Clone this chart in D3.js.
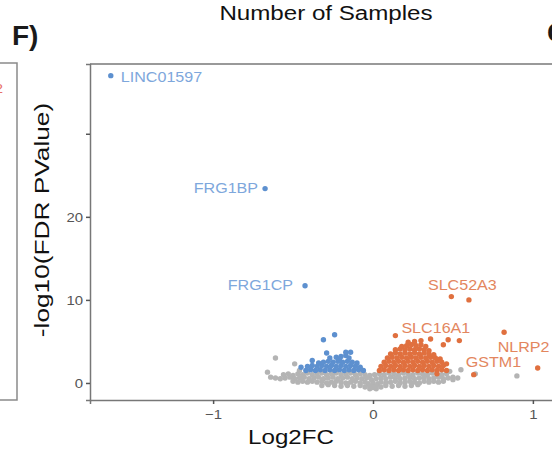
<!DOCTYPE html>
<html>
<head>
<meta charset="utf-8">
<script src="https://cdn.jsdelivr.net/npm/d3@7"></script>
<style>
  body { margin: 0; background: #fff; }
  svg text { font-family: "Liberation Sans", Arial, sans-serif; }
</style>
</head>
<body>
<div id="volcano"></div>
<script>
// Volcano plot values: [log2FC, -log10(FDR p)]
var notSigPts = [
	[-0.56,1.0],[-0.53,1.1],[-0.50,0.9],[-0.47,1.1],[-0.44,1.0],[-0.41,1.2],[-0.38,1.0],[-0.35,1.1],[-0.32,1.2],[-0.29,1.0],
	[-0.26,1.1],[-0.23,1.2],[-0.20,1.0],[-0.17,1.1],[-0.14,1.2],[-0.11,1.0],[-0.08,1.1],[-0.05,1.0],[-0.02,0.9],[0.01,1.0],
	[0.04,1.1],[0.07,1.0],[0.10,1.2],[0.13,1.1],[0.16,1.0],[0.19,1.2],[0.22,1.1],[0.25,1.0],[0.28,1.2],[0.31,1.1],
	[0.34,1.0],[0.37,1.2],[0.40,1.1],[0.43,1.0],[0.46,1.1],
	[-0.64,0.7],[-0.61,0.6],[-0.58,0.5],[-0.55,0.6],[-0.52,0.7],[-0.49,0.5],[-0.46,0.6],[-0.43,0.7],[-0.40,0.5],[-0.37,0.6],
	[-0.34,0.7],[-0.31,0.5],[-0.28,0.6],[-0.25,0.7],[-0.22,0.5],[-0.19,0.6],[-0.16,0.7],[-0.13,0.5],[-0.10,0.6],[-0.07,0.5],
	[-0.04,0.6],[-0.01,0.4],[0.02,0.5],[0.05,0.6],[0.08,0.5],[0.11,0.7],[0.14,0.6],[0.17,0.5],[0.20,0.6],[0.23,0.7],
	[0.26,0.5],[0.29,0.6],[0.32,0.7],[0.35,0.5],[0.38,0.6],[0.41,0.7],[0.44,0.5],[0.47,0.6],[0.50,0.7],[0.53,0.6],
	[-0.50,0.2],[-0.47,0.1],[-0.44,0.2],[-0.41,0.1],[-0.38,0.2],[-0.35,0.1],[-0.32,0.2],[-0.29,0.0],[-0.26,0.1],[-0.23,0.2],
	[-0.20,0.1],[-0.17,0.0],[-0.14,0.1],[-0.11,0.2],[-0.08,0.0],[-0.05,0.1],[-0.03,-0.1],[0.00,0.0],[0.03,-0.1],[0.05,0.1],
	[0.08,0.0],[0.11,0.1],[0.14,0.2],[0.17,0.0],[0.20,0.1],[0.23,0.2],[0.26,0.1],[0.29,0.0],[0.32,0.2],[0.35,0.1],
	[0.38,0.2],[0.41,0.1],[0.44,0.2],
	[-0.32,-0.3],[-0.28,-0.2],[-0.24,-0.3],[-0.20,-0.4],[-0.16,-0.3],[-0.12,-0.4],[-0.08,-0.3],[-0.05,-0.5],[-0.02,-0.4],
	[0.02,-0.4],[0.05,-0.5],[0.08,-0.3],[0.12,-0.4],[0.16,-0.3],[0.20,-0.4],[0.24,-0.3],[0.28,-0.2],
	[-0.02,-0.7],[0.02,-0.7],[0.00,-0.55],
	[-0.61,3.0],[-0.49,2.3],[-0.66,1.3],[-0.46,1.5],[0.50,0.4],[0.64,1.1],[0.48,1.4],[0.90,0.85],[0.55,1.6]
];

var downPts = [
	[-0.42,1.5],[-0.39,1.6],[-0.36,1.5],[-0.33,1.6],[-0.30,1.5],[-0.27,1.6],[-0.24,1.5],[-0.21,1.6],[-0.18,1.5],[-0.15,1.6],
	[-0.12,1.5],[-0.09,1.6],[-0.06,1.5],
	[-0.41,2.0],[-0.38,2.1],[-0.35,2.0],[-0.32,2.1],[-0.29,2.0],[-0.26,2.1],[-0.23,2.0],[-0.20,2.1],[-0.17,2.0],[-0.14,2.1],
	[-0.11,2.0],[-0.08,1.9],
	[-0.34,2.4],[-0.31,2.5],[-0.28,2.6],[-0.25,2.5],[-0.22,2.6],[-0.19,2.5],[-0.16,2.6],[-0.13,2.5],[-0.10,2.4],
	[-0.27,3.0],[-0.23,3.1],[-0.20,3.2],[-0.17,3.3],[-0.21,2.9],[-0.15,3.0],
	[-0.24,5.8],[-0.31,5.2],[-0.29,3.6],[-0.17,3.7],[-0.14,3.7],[-0.38,2.7],[-0.45,1.9],
	[-1.64,37.0],[-0.675,23.4],[-0.425,11.7]
];

var upPts = [
	[0.04,1.5],[0.07,1.6],[0.10,1.5],[0.13,1.6],[0.16,1.5],[0.19,1.6],[0.22,1.5],[0.25,1.6],[0.28,1.5],[0.31,1.6],
	[0.34,1.5],[0.37,1.6],[0.40,1.5],[0.43,1.6],[0.46,1.5],
	[0.05,2.0],[0.08,2.1],[0.11,2.0],[0.14,2.1],[0.17,2.0],[0.20,2.1],[0.23,2.0],[0.26,2.1],[0.29,2.0],[0.32,2.1],
	[0.35,2.0],[0.38,2.1],[0.41,2.0],[0.44,2.1],
	[0.07,2.5],[0.10,2.6],[0.13,2.5],[0.16,2.6],[0.19,2.5],[0.22,2.6],[0.25,2.5],[0.28,2.6],[0.31,2.5],[0.34,2.6],
	[0.37,2.5],[0.40,2.6],[0.43,2.5],
	[0.09,3.0],[0.12,3.1],[0.15,3.0],[0.18,3.1],[0.21,3.0],[0.24,3.1],[0.27,3.0],[0.30,3.1],[0.33,3.0],[0.36,3.1],
	[0.39,3.0],[0.42,2.9],
	[0.11,3.5],[0.14,3.6],[0.17,3.5],[0.20,3.6],[0.23,3.5],[0.26,3.6],[0.29,3.5],[0.32,3.6],[0.35,3.5],[0.38,3.4],
	[0.14,4.0],[0.17,4.1],[0.20,4.0],[0.23,4.1],[0.26,4.0],[0.29,4.1],[0.32,4.0],[0.35,3.9],
	[0.18,4.4],[0.21,4.5],[0.24,4.6],[0.27,4.5],[0.30,4.6],[0.33,4.4],
	[0.22,4.9],[0.26,5.0],[0.30,5.1],
	[0.14,5.7],[0.36,5.3],[0.44,4.6],[0.47,5.2],[0.54,5.1],[0.46,2.3],[0.40,1.1],[0.82,6.1],
	[0.49,10.4],[0.60,10.0],[1.03,1.8],[0.63,1.0]
];

// labelled genes
var labelGenes = ['LINC01597', 'FRG1BP', 'FRG1CP', 'SLC52A3', 'SLC16A1', 'NLRP2', 'GSTM1'];
var labelLfc   = [-1.64, -0.675, -0.425, 0.49, 0.14, 1.03, 0.63];
var labelP     = [37.0, 23.4, 11.7, 10.4, 5.7, 1.8, 1.0];
var labelDir   = ['down', 'down', 'down', 'up', 'up', 'up', 'up'];

var xTicks = [-1, 0, 1];
var yTicks = [0, 10, 20, 30];
var yTickLabels = ['0', '10', '20', ''];

var W = 552, H = 452;
var SX = 1.15; // text in the figure is a bit wide

// label nudges in px (dx, dy, anchor) - picked by eye, like ggrepel did
var labelNudge = {
	'LINC01597': [10, 6, 'start'],
	'FRG1BP':    [-7, 4, 'end'],
	'FRG1CP':    [-12, 4, 'end'],
	'SLC52A3':   [11, -7, 'middle'],
	'SLC16A1':   [6, -3, 'start'],
	'NLRP2':     [-40, -16, 'start'],
	'GSTM1':     [-8, -8, 'start']
};

function addText(parent, x, y, str, size, opts) {
	opts = opts || {};
	var g = parent.append("g")
		.attr("transform", "translate(" + x + "," + y + ")" +
			(opts.rotate ? " rotate(" + opts.rotate + ")" : "") +
			" scale(" + (opts.sx || SX) + ",1)");
	return g.append("text")
		.attr("x", 0).attr("y", 0)
		.attr("text-anchor", opts.anchor || "start")
		.style("font-size", size + "px")
		.style("font-weight", opts.weight || "normal")
		.style("fill", opts.fill || "#222")
		.text(str);
}

function generate_volcano() {
	var svg = d3.select("#volcano").append("svg")
		.attr("width", W)
		.attr("height", H);

	// x scale runs past the right edge: the panel is cut off in the figure
	var xScale = d3.scaleLinear().domain([-1.77, 1.77]).range([90, 656]);
	var yScale = d3.scaleLinear().domain([-2.05, 38.4]).range([400, 64]);

	// bit of the neighbouring panel on the left
	svg.append("rect")
		.attr("x", -10).attr("y", 63)
		.attr("width", 27).attr("height", 337)
		.style("fill", "none")
		.style("stroke", "#8a8a8a")
		.style("stroke-width", 1.5);
	addText(svg, 3, 93, "2", 13, { anchor: "end", fill: "#e8706a" });

	// panel letters + title
	addText(svg, 12, 45, "F)", 28, { weight: "bold", fill: "#1a1a1a", sx: 1.0 });
	addText(svg, 547, 42, "G)", 28, { weight: "bold", fill: "#1a1a1a", sx: 1.0 });
	addText(svg, 326, 20, "Number of Samples", 21, { anchor: "middle", fill: "#111" });

	// top border of panel
	svg.append("line")
		.attr("x1", xScale.range()[0]).attr("x2", xScale.range()[1])
		.attr("y1", yScale.range()[1]).attr("y2", yScale.range()[1])
		.style("stroke", "#777").style("stroke-width", 1.5);

	// points: grey first, then the coloured ones on top
	function drawPts(pts, colour) {
		svg.append("g").selectAll("circle")
			.data(pts)
			.enter()
			.append("circle")
				.attr("cx", function(d) { return xScale(d[0]); })
				.attr("cy", function(d) { return yScale(d[1]); })
				.attr("r", 2.7)
				.style("fill", colour);
	}
	drawPts(notSigPts, "#b4b4b4");
	drawPts(downPts, "#5d90cf");
	drawPts(upPts, "#e0703f");

	// gene labels
	labelGenes.forEach(function(gene, i) {
		var nd = labelNudge[gene];
		addText(svg, xScale(labelLfc[i]) + nd[0], yScale(labelP[i]) + nd[1], gene, 14, {
			anchor: nd[2],
			fill: labelDir[i] == 'down' ? "#7ea7dc" : "#e3865e"
		});
	});

	// axes
	var xAxis = d3.axisBottom(xScale).tickValues(xTicks).tickSize(4).tickFormat(d3.format("d"));
	var yAxis = d3.axisLeft(yScale).tickValues(yTicks).tickSize(4)
		.tickFormat(function(d, i) { return yTickLabels[i]; });

	var gx = svg.append("g").attr("transform", "translate(0,400)").call(xAxis);
	var gy = svg.append("g").attr("transform", "translate(90,0)").call(yAxis);

	[gx, gy].forEach(function(g) {
		g.select(".domain").style("stroke", "#777").style("stroke-width", 1.5);
		g.selectAll(".tick line").style("stroke", "#555").style("stroke-width", 1.5);
		g.selectAll(".tick text").remove();
	});

	// tick labels drawn by hand so they get the same wide look
	gx.selectAll(".tick").each(function(d) {
		addText(d3.select(this), 0, 19, d == -1 ? "\u22121" : String(d), 13, { anchor: "middle", fill: "#555" });
	});
	gy.selectAll(".tick").each(function(d, i) {
		addText(d3.select(this), -7, 5, yTickLabels[i], 13, { anchor: "end", fill: "#555" });
	});

	// axis titles
	addText(svg, 291, 444, "Log2FC", 21, { anchor: "middle", fill: "#111" });
	addText(svg, 49, 220, "-log10(FDR PValue)", 21, { anchor: "middle", fill: "#111", rotate: -90, sx: 1.25 });
} // generate_volcano

generate_volcano();
</script>
</body>
</html>
